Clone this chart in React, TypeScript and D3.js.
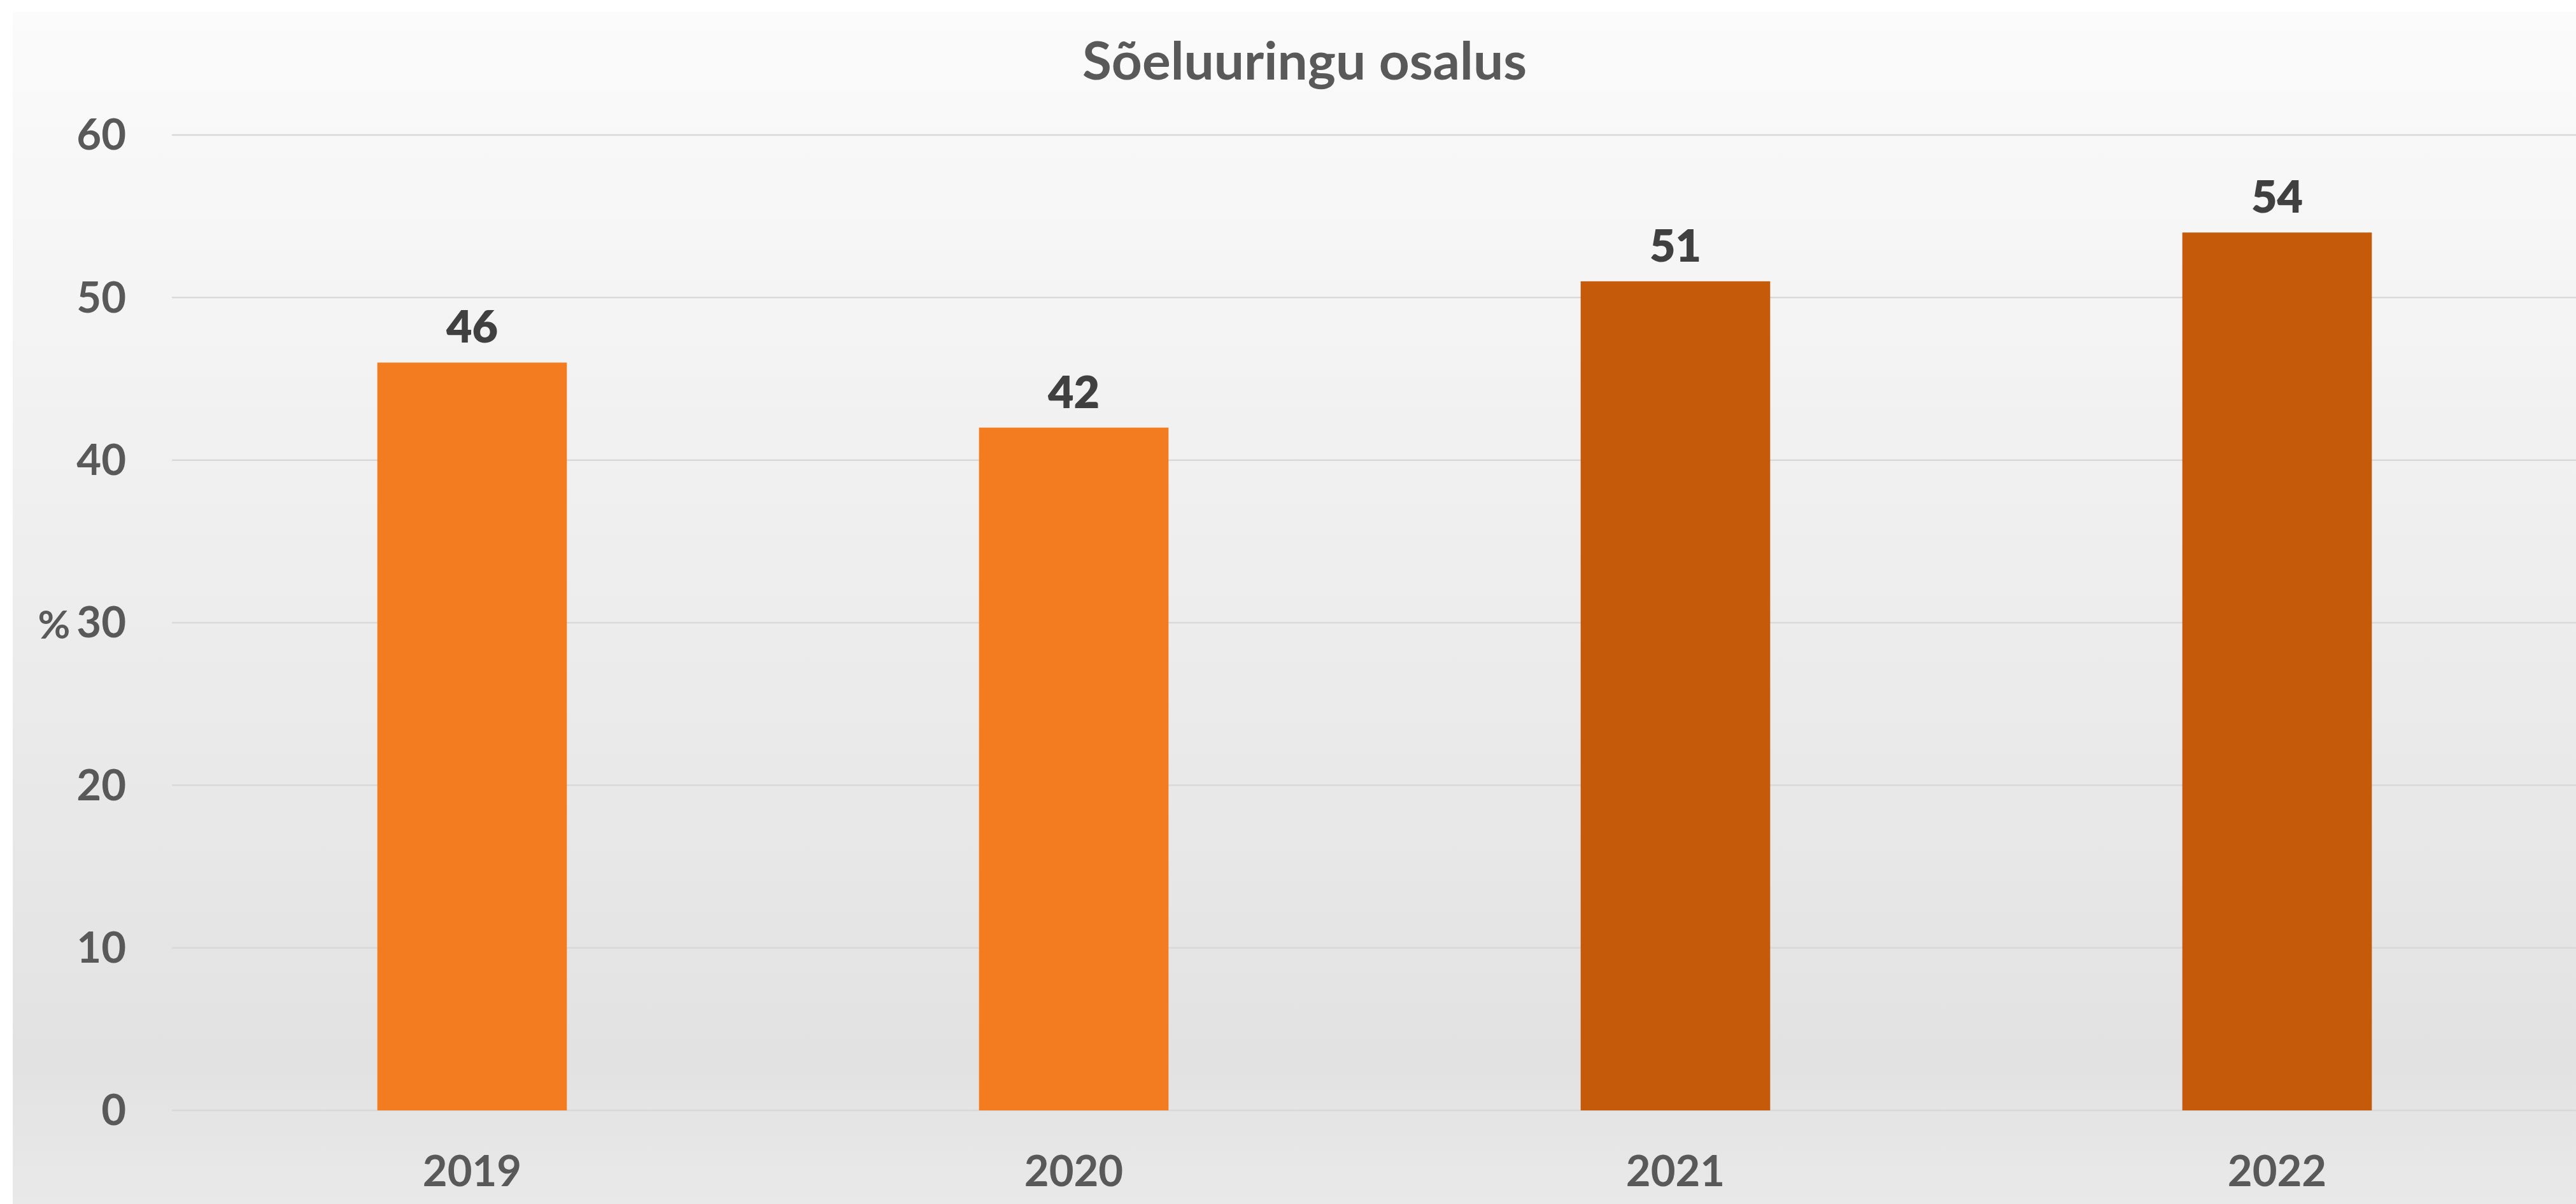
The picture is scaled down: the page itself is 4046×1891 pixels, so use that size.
import React from "react";
import * as d3 from "d3";

const categories = ["2019", "2020", "2021", "2022"];
const values = [46, 42, 51, 54];
const barColors = ["#F47C20", "#F47C20", "#C55A0B", "#C55A0B"];
const yTicks = [0, 10, 20, 30, 40, 50, 60];
const title = "Sõeluuringu osalus";
const yTitle = "%";

const W = 4046;
const H = 1891;
const FONT = "Lato, 'Open Sans', sans-serif";

export default function App() {
  const x = d3
    .scaleBand<string>()
    .domain(categories)
    .range([269, 4049])
    .paddingInner(0.685)
    .paddingOuter(0.3425);
  const y = d3.scaleLinear().domain([0, 60]).range([1744, 212]);

  return (
    <svg
      width={W}
      height={H}
      style={{ position: "absolute", left: 0, top: 0, display: "block" }}
    >
      <defs>
        <linearGradient id="bg" x1="0" y1="0" x2="0" y2="1">
          <stop offset="0" stopColor="#fbfbfb" />
          <stop offset="0.88" stopColor="#e2e2e2" />
          <stop offset="1" stopColor="#e9e9e9" />
        </linearGradient>
      </defs>
      <rect x={0} y={0} width={W} height={H} fill="#ffffff" />
      <rect x={20} y={19} width={W - 20} height={H - 19} fill="url(#bg)" />

      <text
        x={2049}
        y={125}
        textAnchor="middle"
        fontFamily={FONT}
        fontWeight={700}
        fontSize={82}
        textLength={698}
        lengthAdjust="spacingAndGlyphs"
        fill="#595959"
      >
        {title}
      </text>

      {yTicks.map((t) => (
        <g key={t}>
          <line
            x1={270}
            x2={W}
            y1={y(t)}
            y2={y(t)}
            stroke="#d9d9d9"
            strokeWidth={2.5}
          />
          <text
            x={198}
            y={y(t)}
            dy="0.35em"
            textAnchor="end"
            fontFamily={FONT}
            fontWeight={700}
            fontSize={67}
            fill="#595959"
          >
            {t}
          </text>
        </g>
      ))}

      <text
        x={85}
        y={y(30)}
        dy="0.4em"
        textAnchor="middle"
        fontFamily={FONT}
        fontWeight={700}
        fontSize={62}
        fill="#595959"
      >
        {yTitle}
      </text>

      {categories.map((c, i) => (
        <g key={c}>
          <rect
            x={x(c)}
            y={y(values[i])}
            width={x.bandwidth()}
            height={y(0) - y(values[i])}
            fill={barColors[i]}
          />
          <text
            x={(x(c) as number) + x.bandwidth() / 2}
            y={y(values[i]) - 31}
            textAnchor="middle"
            fontFamily={FONT}
            fontWeight={800}
            fontSize={70}
            fill="#404040"
          >
            {values[i]}
          </text>
          <text
            x={(x(c) as number) + x.bandwidth() / 2}
            y={1863}
            textAnchor="middle"
            fontFamily={FONT}
            fontWeight={700}
            fontSize={67}
            fill="#595959"
          >
            {c}
          </text>
        </g>
      ))}
    </svg>
  );
}
